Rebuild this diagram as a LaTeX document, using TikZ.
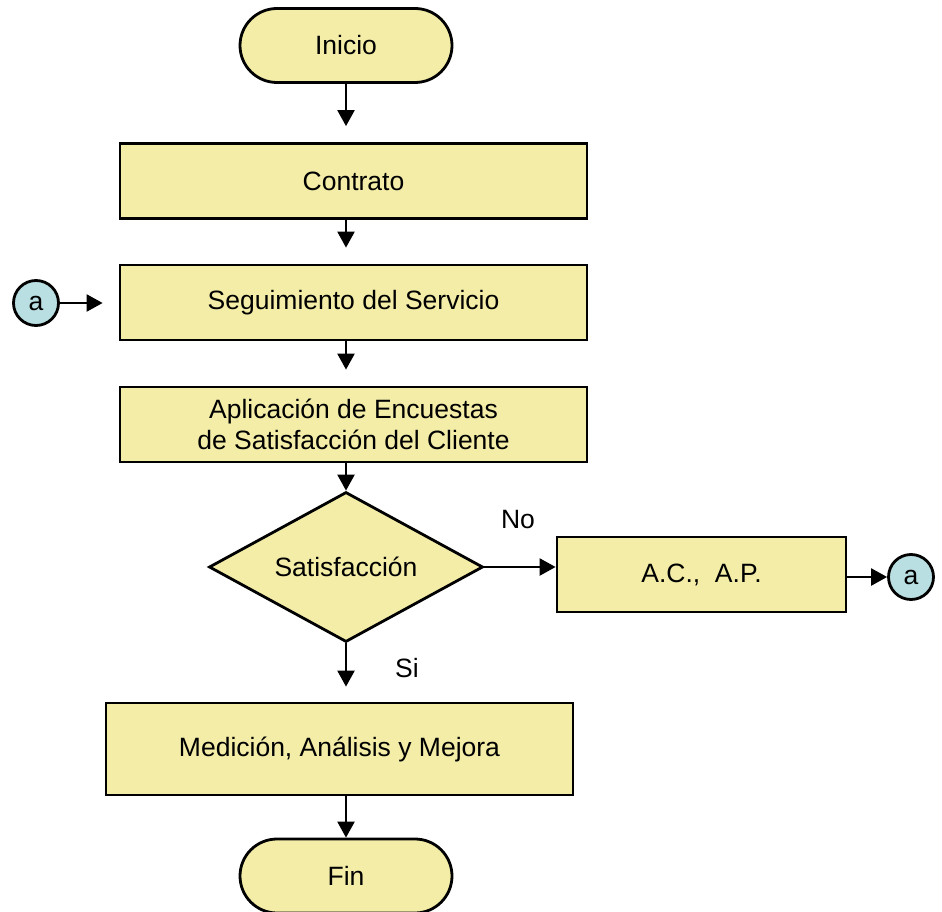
\documentclass[tikz,border=0pt]{standalone}
\usepackage{fontspec}
\setmainfont{Liberation Sans}
\usetikzlibrary{arrows.meta,shapes.geometric}
\definecolor{boxfill}{HTML}{F3EDA8}
\definecolor{circfill}{HTML}{B9DFE2}
\tikzset{
  base/.style={draw=black, line width=2.8pt, fill=boxfill, font=\fontsize{26.5}{31}\selectfont, inner sep=0pt, align=center},
  procbox/.style={base, rectangle, minimum width=467pt, minimum height=75pt},
  termbox/.style={base, rectangle, rounded corners=37pt, minimum width=212pt, minimum height=74pt},
  decbox/.style={base, diamond, minimum width=274pt, minimum height=150pt, aspect=1.8},
  conn/.style={draw=black, line width=2.8pt, fill=circfill, circle, minimum size=45pt, inner sep=0pt, font=\fontsize{26.5}{30}\selectfont},
  arr/.style={line width=2.4pt, -{Triangle[length=16pt,width=17pt]}},
  lbl/.style={font=\fontsize{26.5}{30}\selectfont}
}
\begin{document}
\begin{tikzpicture}[x=1pt,y=-1pt]
\useasboundingbox (0,0) rectangle (942,912);
\node[termbox] (inicio) at (346,45.5) {Inicio};
\node[procbox] (contrato) at (353.5,181) {Contrato};
\node[procbox] (seg) at (353.5,302.5) {Seguimiento del Servicio};
\node[procbox] (apl) at (353.5,424.5) {Aplicación de Encuestas\\de Satisfacción del Cliente};
\node[decbox] (sat) at (346,567) {Satisfacción};
\node[procbox, minimum width=289pt] (acap) at (701.5,574.5) {A.C.,\ \ A.P.};
\node[procbox, minimum height=92pt] (med) at (339.5,749) {Medición, Análisis y Mejora};
\node[termbox] (fin) at (346,876) {Fin};
\node[conn] (aL) at (36,303) {a};
\node[conn] (aR) at (911,577) {a};
\node[lbl] (no) at (518,520) {No};
\node[lbl] (si) at (407,668) {Si};
\draw[arr, shorten >=16pt] (inicio.south) -- (inicio.south |- contrato.north);
\draw[arr, shorten >=16pt] (inicio.south |- contrato.south) -- (inicio.south |- seg.north);
\draw[arr, shorten >=16pt] (inicio.south |- seg.south) -- (inicio.south |- apl.north);
\draw[arr] (inicio.south |- apl.south) -- (sat.north);
\draw[arr, shorten >=15pt] (sat.south) -- (sat.south |- med.north);
\draw[arr] (sat.south |- med.south) -- (fin.north);
\draw[arr] (sat.east) -- (acap.west |- sat.east);
\draw[arr] (acap.east |- aR.west) -- (aR.west);
\draw[arr, shorten >=16pt] (aL.east) -- (seg.west |- aL.east);
\end{tikzpicture}
\end{document}
